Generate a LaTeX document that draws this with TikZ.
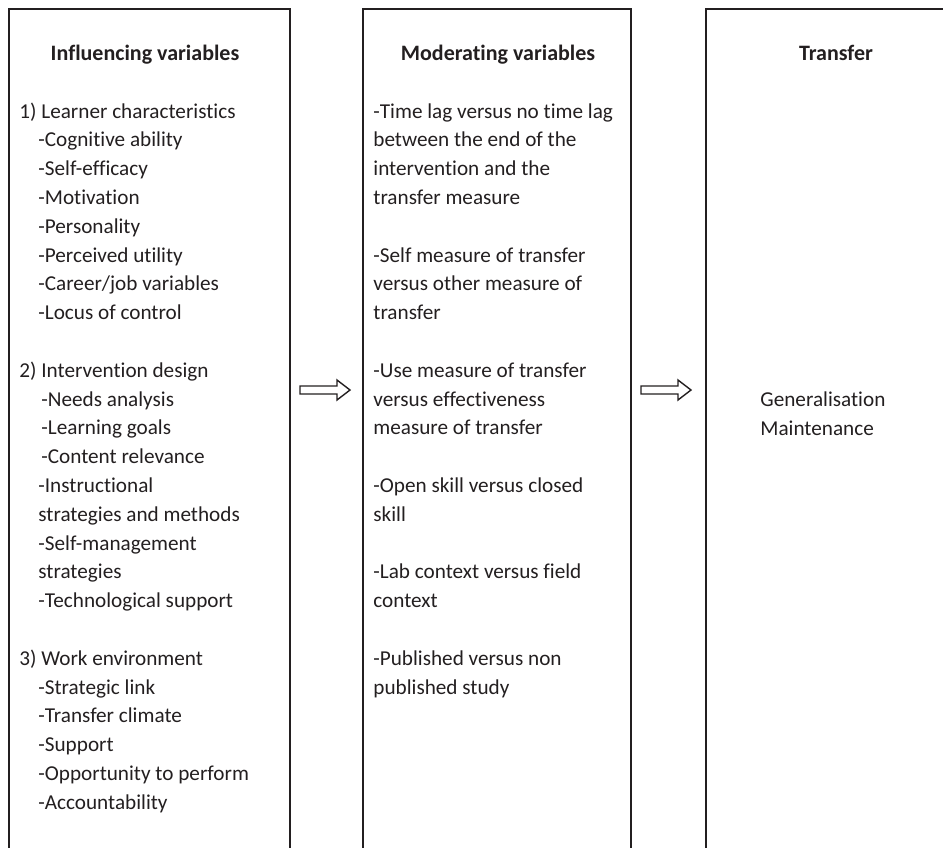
\documentclass[tikz,border=0pt]{standalone}
\usepackage{fontspec}
\setmainfont{Carlito}[Ligatures=NoCommon]
\definecolor{ink}{HTML}{231F20}

\begin{document}
\begin{tikzpicture}[x=0.5pt,y=-0.5pt,
colbox/.style={draw=ink, line width=1pt},
title/.style={font=\fontsize{11}{13}\selectfont\bfseries, text=ink, inner sep=0pt, anchor=base},
item/.style={font=\fontsize{10.6}{12.8}\selectfont, text=ink, inner sep=0pt, anchor=base west},
hollow/.style={draw=ink, line width=0.7pt, fill=white, line join=miter}
]
\useasboundingbox (0,0) rectangle (943,847);
\clip (0,0) rectangle (943,847);

% the three columns, open at the bottom
\draw[colbox] (9,870) |- (290,9) -- (290,870);
\draw[colbox] (363,870) |- (631,9) -- (631,870);
\draw[colbox] (706,870) |- (960,9);

\node[title](infl_title) at (145,60) {Influencing variables};
\node[title](mod_title) at (498,60) {Moderating variables};
\node[title](tr_title) at (836,60) {Transfer};

% influencing variables
\foreach \r/\x/\t in {0/19/{1) Learner characteristics}, 1/38/{-Cognitive ability},
  2/38/{-Self-efficacy}, 3/38/{-Motivation}, 4/38/{-Personality},
  5/38/{-Perceived utility}, 6/38/{-Career/job variables}, 7/38/{-Locus of control},
  9/19/{2) Intervention design}, 10/41/{-Needs analysis}, 11/41/{-Learning goals},
  12/41/{-Content relevance}, 13/38/{-Instructional}, 14/38/{strategies and methods},
  15/38/{-Self-management}, 16/38/{strategies}, 17/38/{-Technological support},
  19/19/{3) Work environment}, 20/38/{-Strategic link}, 21/38/{-Transfer climate},
  22/38/{-Support}, 23/38/{-Opportunity to perform}, 24/38/{-Accountability}}
  \node[item](infl_\r) at (\x,118+28.8*\r) {\t};

% moderating variables
\foreach \r/\t in {0/{-Time lag versus no time lag}, 1/{between the end of the},
  2/{intervention and the}, 3/{transfer measure},
  5/{-Self measure of transfer}, 6/{versus other measure of}, 7/{transfer},
  9/{-Use measure of transfer}, 10/{versus effectiveness}, 11/{measure of transfer},
  13/{-Open skill versus closed}, 14/{skill},
  16/{-Lab context versus field}, 17/{context},
  19/{-Published versus non}, 20/{published study}}
  \node[item](mod_\r) at (373,118+28.8*\r) {\t};

% transfer
\node[item](gen) at (760,406) {Generalisation};
\node[item](maint) at (760,435) {Maintenance};

% block arrows between the columns
\coordinate (arr_a) at (300,390);
\coordinate (arr_b) at (641,390);
\draw[hollow] (arr_a) ++(0,-4) -- ++(37,0) -- ++(0,-6) -- ++(13,10) -- ++(-13,10) -- ++(0,-6) -- ++(-37,0) -- cycle;
\draw[hollow] (arr_b) ++(0,-4) -- ++(37,0) -- ++(0,-6) -- ++(13,10) -- ++(-13,10) -- ++(0,-6) -- ++(-37,0) -- cycle;
\end{tikzpicture}
\end{document}
